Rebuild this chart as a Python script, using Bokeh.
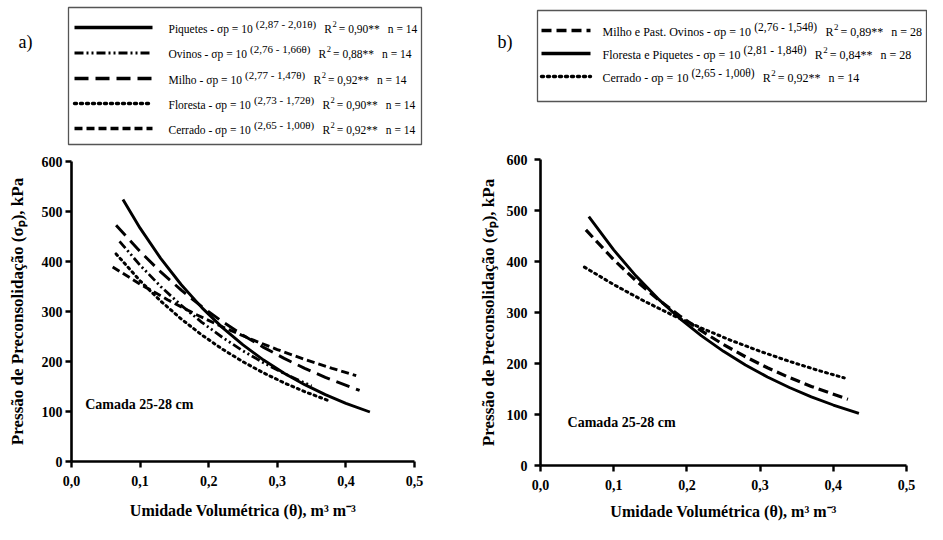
from bokeh.plotting import figure
from bokeh.models import Label, FixedTicker, CustomJSTickFormatter, Range1d
from bokeh.layouts import row, column
from bokeh.embed import file_html
from bokeh.resources import INLINE

# ---------------- DATA ----------------
# Panel a) - Camada 25-28 cm
theta_piquetes = [0.075, 0.10, 0.13, 0.16, 0.19, 0.22, 0.25, 0.28, 0.31, 0.34, 0.37, 0.40, 0.435]
sigma_piquetes = [523.9, 466.7, 406.2, 353.5, 307.7, 267.8, 233.1, 202.9, 176.6, 153.7, 133.8, 116.4, 99.0]

theta_ovinos = [0.07, 0.10, 0.13, 0.16, 0.19, 0.22, 0.25, 0.28, 0.31, 0.35]
sigma_ovinos = [440.4, 392.6, 350.1, 312.2, 278.4, 248.2, 221.3, 197.4, 176.0, 151.0]

theta_milho = [0.065, 0.10, 0.13, 0.16, 0.19, 0.22, 0.25, 0.28, 0.31, 0.34, 0.37, 0.42]
sigma_milho = [472.6, 419.8, 379.3, 342.6, 309.6, 279.7, 252.6, 228.2, 206.2, 186.3, 168.3, 142.1]

theta_floresta = [0.065, 0.10, 0.13, 0.16, 0.19, 0.22, 0.25, 0.28, 0.31, 0.34, 0.375]
sigma_floresta = [415.2, 361.4, 320.9, 285.0, 253.0, 224.7, 199.5, 177.2, 157.3, 139.7, 121.6]

theta_cerrado = [0.06, 0.10, 0.14, 0.18, 0.22, 0.26, 0.30, 0.34, 0.38, 0.415]
sigma_cerrado = [389.0, 354.8, 323.6, 295.1, 269.2, 245.5, 223.9, 204.2, 186.2, 171.8]

# Panel b)
theta_milho_ovinos = [0.062, 0.10, 0.13, 0.16, 0.19, 0.22, 0.25, 0.28, 0.31, 0.34, 0.37, 0.42]
sigma_milho_ovinos = [461.9, 403.6, 362.9, 326.3, 293.4, 263.8, 237.1, 213.2, 191.7, 172.4, 155.0, 129.8]

theta_floresta_piquetes = [0.066, 0.10, 0.13, 0.16, 0.19, 0.22, 0.25, 0.28, 0.31, 0.34, 0.37, 0.40, 0.435]
sigma_floresta_piquetes = [488.2, 422.7, 372.3, 327.8, 288.7, 254.2, 223.9, 197.2, 173.6, 152.9, 134.7, 118.6, 102.2]

theta_cerrado_b = [0.06, 0.10, 0.14, 0.18, 0.22, 0.26, 0.30, 0.34, 0.38, 0.415]
sigma_cerrado_b = [389.0, 354.8, 323.6, 295.1, 269.2, 245.5, 223.9, 204.2, 186.2, 171.8]

x_ticks = [0.0, 0.1, 0.2, 0.3, 0.4, 0.5]
y_ticks = [0, 100, 200, 300, 400, 500, 600]

legend_a_names = ["Piquetes", "Ovinos", "Milho", "Floresta", "Cerrado"]
legend_a_exps = ["(2,87 - 2,01θ)", "(2,76 - 1,66θ)", "(2,77 - 1,47θ)", "(2,73 - 1,72θ)", "(2,65 - 1,00θ)"]
legend_a_r2 = ["0,90**", "0,88**", "0,92**", "0,90**", "0,92**"]
legend_a_n = [14, 14, 14, 14, 14]

legend_b_names = ["Milho e Past. Ovinos", "Floresta e Piquetes", "Cerrado"]
legend_b_exps = ["(2,76 - 1,54θ)", "(2,81 - 1,84θ)", "(2,65 - 1,00θ)"]
legend_b_r2 = ["0,89**", "0,84**", "0,92**"]
legend_b_n = [28, 28, 14]

layer_label = "Camada 25-28 cm"
layer_pos_a = (0.02, 114)
layer_pos_b = (0.037, 84)
x_title = "Umidade Volumétrica (θ), m³ m⁻³"
y_title = "Pressão de Preconsolidação (σₚ), kPa"

# ---------------- STYLE / LAYOUT ----------------
FONT = "Liberation Serif"
LEG_H = 150
PLOT_H = 374

styles_a = [
    dict(line_dash="solid", line_width=2.9),
    dict(line_dash="9 3 2 3 2 3", line_width=2.8),
    dict(line_dash="14 7", line_width=2.9),
    dict(line_dash="2 4", line_width=3, line_cap="round"),
    dict(line_dash="8 4", line_width=2.9),
]
styles_b = [
    dict(line_dash="10 5", line_width=3.2),
    dict(line_dash="solid", line_width=2.9),
    dict(line_dash="2 4", line_width=3, line_cap="round"),
]

# Times / Liberation Serif advance widths (1/1000 em)
W = {" ": 250, "(": 333, ")": 333, ",": 250, "-": 333, ".": 250, "=": 564, "*": 500,
     "C": 667, "F": 556, "M": 889, "O": 722, "P": 556, "R": 667,
     "a": 444, "c": 444, "d": 500, "e": 444, "h": 500, "i": 278, "l": 278, "n": 500,
     "o": 500, "p": 500, "q": 500, "r": 333, "s": 389, "t": 278, "u": 500, "v": 500,
     "σ": 550, "θ": 500}


def tw(text, size):
    return sum(W.get(ch, 500) for ch in text) * size / 1000.0


def add_text(p, x, y, text, size, bold=False, align="left", baseline="middle"):
    p.add_layout(Label(x=x, y=y, text=text, text_font=FONT, text_font_size=f"{size}px",
                       text_font_style="bold" if bold else "normal", text_color="black",
                       text_align=align, text_baseline=baseline))


def make_plot(width, left, frame_w, top, frame_h, y_label_standoff, tick_standoff, x_label_standoff):
    p = figure(width=width, height=PLOT_H, x_range=(0, 0.5), y_range=(0, 600),
               output_backend="svg", toolbar_location=None, frame_align=False,
               min_border_left=left, min_border_right=width - left - frame_w,
               min_border_top=top, min_border_bottom=PLOT_H - top - frame_h)
    p.outline_line_color = None
    p.xgrid.visible = False
    p.ygrid.visible = False
    for ax, ticks in ((p.xaxis, x_ticks), (p.yaxis, y_ticks)):
        ax.ticker = FixedTicker(ticks=ticks)
        ax.axis_line_width = 2.6
        ax.axis_line_color = "black"
        ax.major_tick_line_width = 2.4
        ax.major_tick_line_color = "black"
        ax.major_tick_in = 0
        ax.major_tick_out = 6
        ax.minor_tick_line_color = None
        ax.major_label_text_font = FONT
        ax.major_label_text_font_style = "bold"
        ax.major_label_text_font_size = "14px"
        ax.major_label_text_color = "black"
        ax.axis_label_text_font = FONT
        ax.axis_label_text_font_style = "bold"
        ax.axis_label_text_color = "black"
    p.xaxis.formatter = CustomJSTickFormatter(code="return tick.toFixed(1).replace('.', ',');")
    p.xaxis.major_label_standoff = 8
    p.yaxis.major_label_standoff = tick_standoff
    p.xaxis.axis_label = x_title
    p.xaxis.axis_label_text_font_size = "16px"
    p.xaxis.axis_label_standoff = x_label_standoff
    p.yaxis.axis_label = y_title
    p.yaxis.axis_label_text_font_size = "17px"
    p.yaxis.axis_label_standoff = y_label_standoff
    return p


def make_legend(x0, width, box, samples, rows_y, names, exps, r2s, ns, styles, text_x, fs_main, fs_exp, tag, tag_x):
    lg = figure(width=width, height=LEG_H, x_range=Range1d(x0, x0 + width), y_range=Range1d(LEG_H, 0),
                output_backend="svg", toolbar_location=None, x_axis_type=None, y_axis_type=None,
                frame_align=False,
                min_border=0, min_border_left=0, min_border_right=0, min_border_top=0, min_border_bottom=0)
    lg.outline_line_color = None
    lg.xgrid.visible = False
    lg.ygrid.visible = False
    bl, bt, br, bb = box
    lg.quad(left=bl, right=br, top=bt, bottom=bb, fill_color="white", line_color="#555555", line_width=1.3)
    for i, name in enumerate(names):
        yy = rows_y[i]
        lg.line([samples[0], samples[1]], [yy - 1, yy - 1], line_color="black",
                **{**styles[i], "line_width": styles[i]["line_width"] + 0.4})
        x = text_x
        main = f"{name} - σp = 10"
        add_text(lg, x, yy, main, fs_main)
        x += tw(main, fs_main) + 3
        add_text(lg, x, yy - 5, exps[i], fs_exp)
        x += tw(exps[i], fs_exp) + 8
        add_text(lg, x, yy, "R", fs_main)
        x += tw("R", fs_main) + 0.5
        add_text(lg, x, yy - 5, "2", fs_main * 0.74)
        x += tw("2", fs_main * 0.74) + 2
        rest = f"= {r2s[i]}"
        add_text(lg, x, yy, rest, fs_main)
        x += tw(rest, fs_main) + 8
        add_text(lg, x, yy, f"n = {ns[i]}", fs_main)
    add_text(lg, tag_x, 41, tag, 18)
    return lg


# ---------------- PANEL A ----------------
leg_a = make_legend(0, 470, (68, 7, 421, 144), (74, 152), [28, 53.5, 79, 104, 129],
                    legend_a_names, legend_a_exps, legend_a_r2, legend_a_n, styles_a,
                    168, 11.5, 11, "a)", 18)
pa = make_plot(470, 71, 343, 11, 300, 12, 3, 13)
series_a = [
    (theta_piquetes, sigma_piquetes),
    (theta_ovinos, sigma_ovinos),
    (theta_milho, sigma_milho),
    (theta_floresta, sigma_floresta),
    (theta_cerrado, sigma_cerrado),
]
for (tx, sy_), st in zip(series_a, styles_a):
    pa.line(tx, sy_, line_color="black", **st)
add_text(pa, layer_pos_a[0], layer_pos_a[1], layer_label, 14, bold=True)

# ---------------- PANEL B ----------------
leg_b = make_legend(470, 457, (537, 10, 926, 101), (541, 590), [31, 54, 77],
                    legend_b_names, legend_b_exps, legend_b_r2, legend_b_n, styles_b,
                    602, 12, 11.5, "b)", 497)
pb = make_plot(457, 70, 366, 9, 306, 6, 7, 10)
series_b = [
    (theta_milho_ovinos, sigma_milho_ovinos),
    (theta_floresta_piquetes, sigma_floresta_piquetes),
    (theta_cerrado_b, sigma_cerrado_b),
]
for (tx, sy_), st in zip(series_b, styles_b):
    pb.line(tx, sy_, line_color="black", **st)
add_text(pb, layer_pos_b[0], layer_pos_b[1], layer_label, 14, bold=True)

layout = row(column(leg_a, pa), column(leg_b, pb))
open("out.html", "w").write(file_html(layout, INLINE))
